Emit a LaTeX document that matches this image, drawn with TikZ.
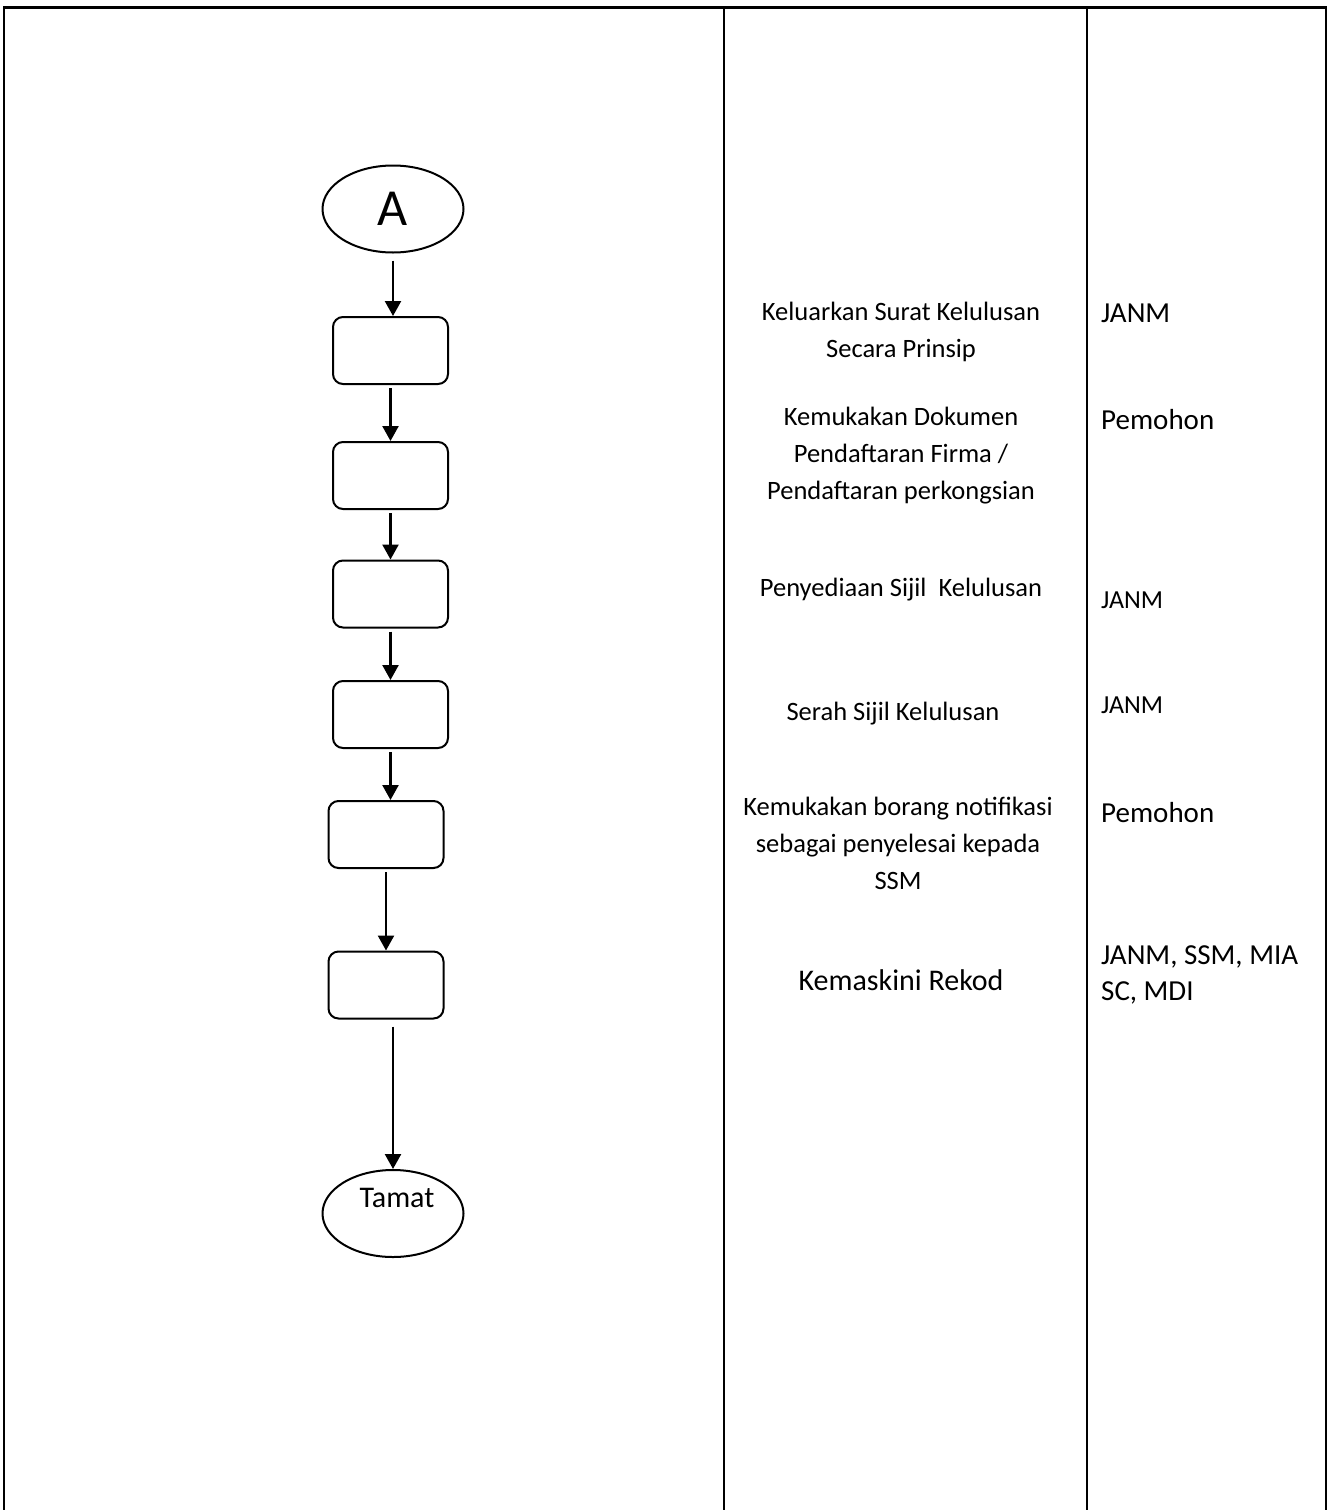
\documentclass[tikz,border=0pt]{standalone}
\usepackage{fontspec}
\setmainfont{Carlito}
\usepackage{tikz}
\usetikzlibrary{positioning}
\usetikzlibrary{shapes,arrows.meta}

\begin{document}
\begin{tikzpicture}[x=1pt,y=-1pt]
\tikzstyle{proc}=[draw,line width=2pt,rounded corners=10pt,minimum width=115pt,minimum height=67pt]
\tikzstyle{term}=[draw,ellipse,line width=2pt,minimum width=141pt,minimum height=87pt,inner sep=0pt]
\tikzstyle{flow}=[line width=2.4pt,-{Triangle[length=15pt,width=16pt]}]
\tikzstyle{desc}=[align=center,font=\fontsize{26.5}{37}\selectfont]
\tikzstyle{who}=[anchor=west,align=left,inner sep=0pt,font=\fontsize{29}{36}\selectfont]
\useasboundingbox (0,0) rectangle (1328,1510);
% table frame
\draw[line width=3pt] (3,7) -- (1327,7);
\foreach \x in {4,724,1087,1326} {
    \draw[line width=2pt] (\x,7) -- (\x,1510);
  }
% flow chart
\node[term] (a) at (393,209) {\fontsize{52}{52}\selectfont A};
\node[proc] (b1) at (390.5,350.5) {};
\node[proc] (b2) at (390.5,475.5) {};
\node[proc] (b3) at (390.5,594) {};
\node[proc] (b4) at (390.5,714.5) {};
\node[proc] (b5) at (386,834.5) {};
\node[proc] (b6) at (386,985) {};
\node[term,label={[font=\fontsize{30}{30}\selectfont,xshift=4pt,yshift=16pt]center:Tamat}] (t) at (393,1213.5) {};
\draw[flow] ([yshift=-7pt]a.south) -- (a.south |- b1.north);
\draw[flow] ([yshift=-3pt]b1.south) -- (b2.north);
\draw[flow] ([yshift=-3pt]b2.south) -- (b3.north);
\draw[flow] ([yshift=-3pt]b3.south) -- (b4.north);
\draw[flow] ([yshift=-3pt]b4.south) -- (b4.south |- b5.north);
\draw[flow] ([yshift=-3pt]b5.south) -- (b6.north);
\draw[flow] ([yshift=-7pt]t.north |- b6.south) -- (t.north);
% activities
\node[desc] (d1) at (901,331.5) {Keluarkan Surat Kelulusan\\Secara Prinsip};
\node[desc] (d2) at (901,456) {Kemukakan Dokumen\\Pendaftaran Firma /\\Pendaftaran perkongsian};
\node[desc] (d3) at (901,590) {Penyediaan Sijil\ \ Kelulusan};
\node[desc] (d4) at (893,714) {Serah Sijil Kelulusan};
\node[desc] (d5) at (898,843) {Kemukakan borang notifikasi\\sebagai penyelesai kepada\\SSM};
\node[desc,font=\fontsize{30}{37}\selectfont] (d6) at (901,980) {Kemaskini Rekod};
% responsible
\node[who] (w1) at (1101,313) {JANM};
\node[who] (w2) at (1101,420) {Pemohon};
\node[who,font=\fontsize{26}{36}\selectfont] (w3) at (1101,600) {JANM};
\node[who,font=\fontsize{26}{36}\selectfont] (w4) at (1101,705) {JANM};
\node[who] (w5) at (1101,813) {Pemohon};
\node[who] (w6) at (1101,975) {JANM, SSM, MIA\\SC, MDI};
\end{tikzpicture}
\end{document}
